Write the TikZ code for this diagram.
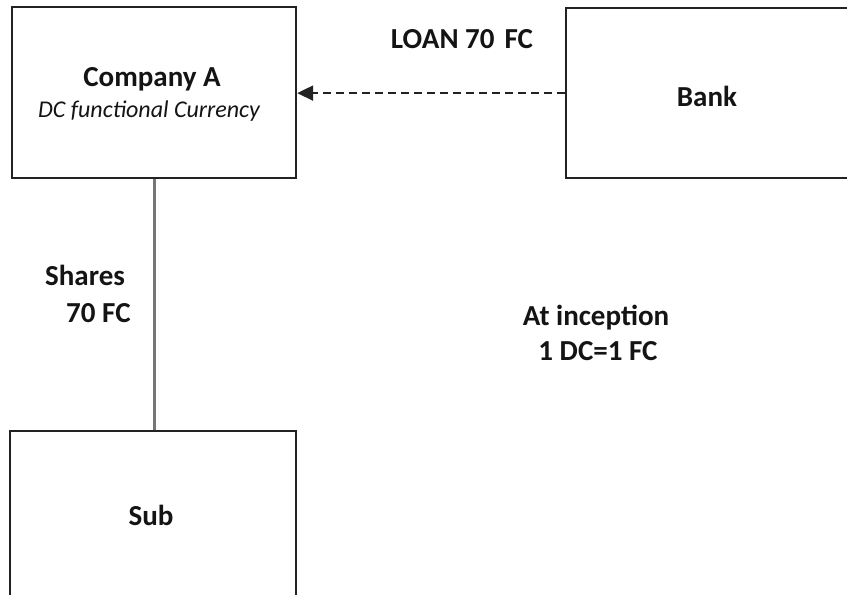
\documentclass[tikz,border=0pt]{standalone}
\usepackage{fontspec}
\setmainfont{Carlito}
\usetikzlibrary{arrows.meta}
\definecolor{ink}{HTML}{141414}
\definecolor{boxline}{HTML}{222222}
\definecolor{linkgray}{HTML}{767676}
\tikzset{
  entity/.style={draw=boxline, line width=2.2pt, rectangle, anchor=north west, inner sep=0pt},
  lbl/.style={text=ink, inner sep=0pt, font=\fontsize{29}{34}\selectfont\bfseries},
  sublbl/.style={text=ink, inner sep=0pt, font=\fontsize{24}{28}\selectfont\itshape},
  loanline/.style={draw=boxline, line width=2pt, dash pattern=on 8pt off 5pt,
    -{Triangle[length=16pt,width=15pt]}},
  shareline/.style={draw=linkgray, line width=3pt}
}
\begin{document}
\begin{tikzpicture}[x=1pt, y=-1pt]
  \useasboundingbox (0,0) rectangle (847,595);
  \clip (0,0) rectangle (847,595);
  \fill[white] (0,0) rectangle (847,595);

  % entities
  \node[entity, minimum width=284pt, minimum height=171pt] (compA) at (11,6) {};
  \node[entity, minimum width=300pt, minimum height=170pt] (bank) at (565,7) {};
  \node[entity, minimum width=286pt, minimum height=172pt] (sub) at (9,430) {};

  % connectors
  \draw[shareline] (compA.south) -- (compA.south |- sub.north);
  \draw[loanline] (bank.west) -- (bank.west -| compA.east);

  % texts
  \node[lbl, anchor=base] (tcomp) at (152,86) {Company A};
  \node[sublbl, anchor=base] (tfunc) at (149,117) {DC functional Currency};
  \node[lbl, anchor=base] (tbank) at (707,106) {Bank};
  \node[lbl, anchor=base] (tsub) at (151,525) {Sub};
  \node[lbl, anchor=base] (tloan) at (462,48) {LOAN 70\hspace{0.12em} FC};
  \node[lbl, anchor=base west] (tshares) at (45,285) {Shares};
  \node[lbl, anchor=base west] (tshamt) at (66,322) {70 FC};
  \node[lbl, anchor=base] (tincep) at (596,325) {At inception};
  \node[lbl, anchor=base] (trate) at (598,360) {1 DC=1 FC};
\end{tikzpicture}
\end{document}
